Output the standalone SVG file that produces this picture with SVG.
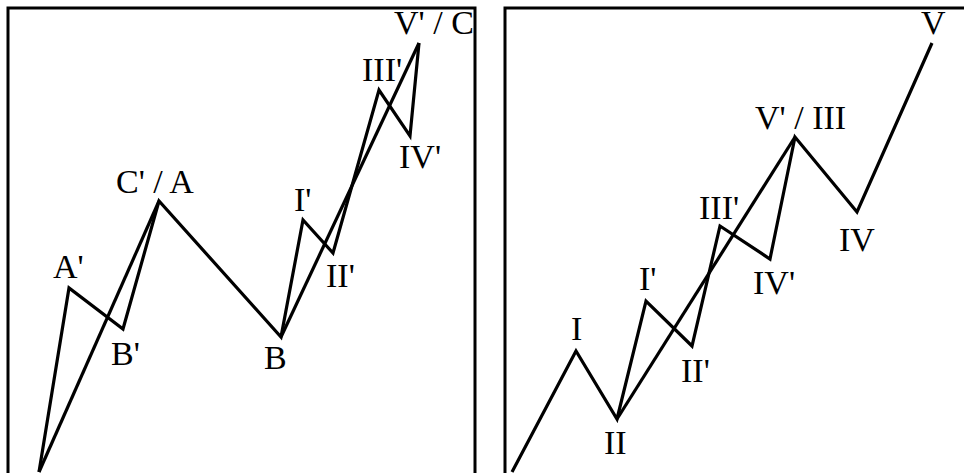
<svg xmlns="http://www.w3.org/2000/svg" width="964" height="473" viewBox="0 0 964 473">
<style>
.frame{fill:none;stroke:#000;stroke-width:3}
.wave{fill:none;stroke:#000;stroke-width:3.2;stroke-linejoin:miter;stroke-linecap:butt}
.lbl{font-family:"Liberation Serif","Times New Roman",serif;font-size:34px;fill:#000}
</style>
<defs>
<clipPath id="clipL"><rect x="9" y="9" width="465" height="470"/></clipPath>
<clipPath id="clipR"><rect x="506" y="9" width="470" height="470"/></clipPath>
</defs>
<rect width="964" height="473" fill="#fff"/>
<g id="panel-left">
<rect class="frame" x="8" y="8" width="467" height="480"/>
<g clip-path="url(#clipL)">
<g id="connectors-left">
<polyline class="wave" points="39,472 69,288 123,329 159,201 281,337 303,220 333,253 379,90 410,136 419,43"/>
<line class="wave" x1="39" y1="472" x2="159" y2="201"/>
<line class="wave" x1="281" y1="337" x2="419" y2="43"/>
</g>
<g id="node-A1"><text class="lbl" x="53" y="278">A'</text></g>
<g id="node-B1"><text class="lbl" x="111" y="365">B'</text></g>
<g id="node-C1A"><text class="lbl" x="116" y="193">C' / A</text></g>
<g id="node-B"><text class="lbl" x="264" y="369">B</text></g>
<g id="node-I1L"><text class="lbl" x="294" y="211">I'</text></g>
<g id="node-II1L"><text class="lbl" x="326" y="287">II'</text></g>
<g id="node-III1L"><text class="lbl" x="362" y="81">III'</text></g>
<g id="node-IV1L"><text class="lbl" x="399" y="168">IV'</text></g>
<g id="node-V1C"><text class="lbl" x="394" y="34">V' / C</text></g>
</g>
</g>
<g id="panel-right">
<rect class="frame" x="505" y="8" width="480" height="480"/>
<g clip-path="url(#clipR)">
<g id="connectors-right">
<polyline class="wave" points="512,472 576,351 617,419 646,301 692,346 720,226 770,259 795,137 857,212 932,43"/>
<line class="wave" x1="617" y1="419" x2="795" y2="137"/>
</g>
<g id="node-I"><text class="lbl" x="571" y="340">I</text></g>
<g id="node-II"><text class="lbl" x="604" y="454">II</text></g>
<g id="node-I1R"><text class="lbl" x="639" y="290">I'</text></g>
<g id="node-II1R"><text class="lbl" x="681" y="382">II'</text></g>
<g id="node-III1R"><text class="lbl" x="699" y="219">III'</text></g>
<g id="node-IV1R"><text class="lbl" x="753" y="294">IV'</text></g>
<g id="node-V1III"><text class="lbl" x="755" y="129">V' / III</text></g>
<g id="node-IV"><text class="lbl" x="839" y="251">IV</text></g>
<g id="node-V"><text class="lbl" x="921" y="34">V</text></g>
</g>
</g>
</svg>
